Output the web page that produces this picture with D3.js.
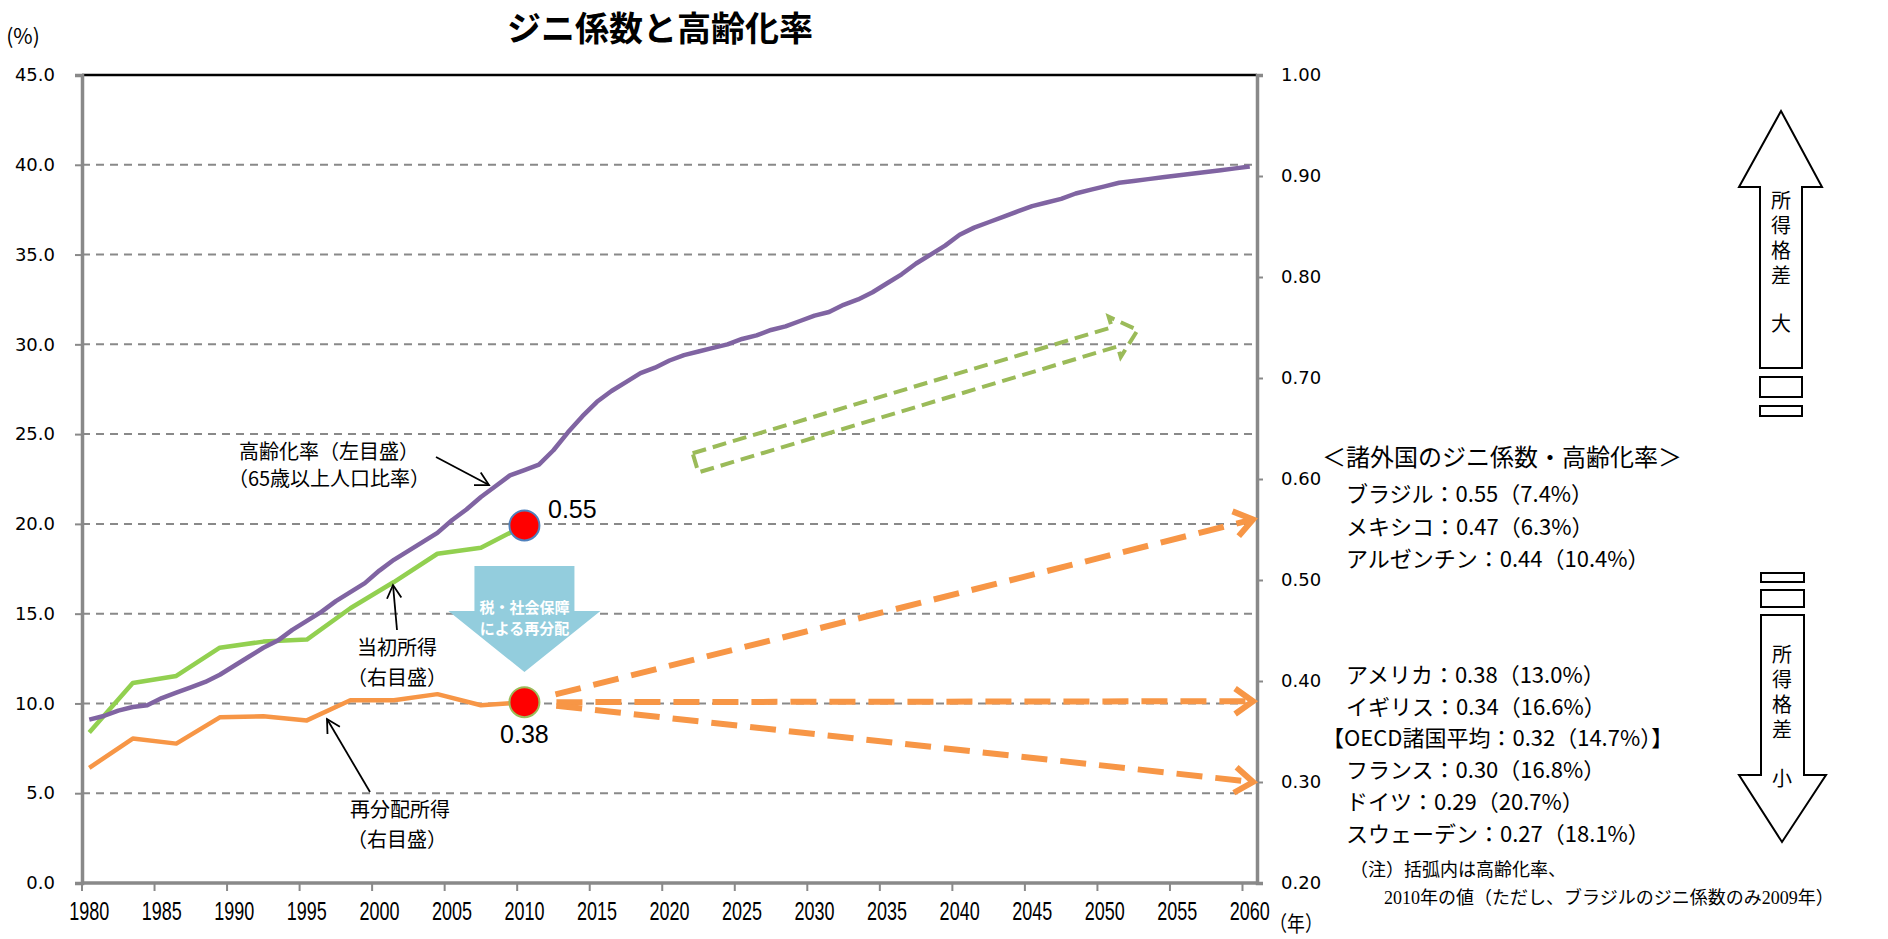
<!DOCTYPE html>
<html><head><meta charset="utf-8">
<script src="https://cdn.jsdelivr.net/npm/d3@7"></script>
<style>body{margin:0;background:#fff}text{font-family:"Noto Sans CJK JP",sans-serif}</style>
</head><body><svg id="c" width="1888" height="939"></svg>
<script>
// ---------- DATA ----------
const years = d3.range(1980, 2061);
const agingRate = [9.1,9.3,9.6,9.8,9.9,10.3,10.6,10.9,11.2,11.6,
 12.1,12.6,13.1,13.5,14.1,14.6,15.1,15.7,16.2,16.7,
 17.4,18.0,18.5,19.0,19.5,20.2,20.8,21.5,22.1,22.7,
 23.0,23.3,24.1,25.1,26.0,26.8,27.4,27.9,28.4,28.7,
 29.1,29.4,29.6,29.8,30.0,30.3,30.5,30.8,31.0,31.3,
 31.6,31.8,32.2,32.5,32.9,33.4,33.9,34.5,35.0,35.5,
 36.1,36.5,36.8,37.1,37.4,37.7,37.9,38.1,38.4,38.6,
 38.8,39.0,39.1,39.2,39.3,39.4,39.5,39.6,39.7,39.8,39.9];
const giniYears = [1980,1983,1986,1989,1992,1995,1998,2001,2004,2007,2010];
const giniInitial = [0.349,0.398,0.405,0.433,0.439,0.441,0.472,0.498,0.526,0.532,0.554];
const giniRedistributed = [0.314,0.343,0.338,0.364,0.365,0.361,0.381,0.381,0.387,0.376,0.379];
const projectionTargets = [0.56,0.38,0.30];
const xTickYears = [1980,1985,1990,1995,2000,2005,2010,2015,2020,2025,2030,2035,2040,2045,2050,2055,2060];
const leftTicks = [0,5,10,15,20,25,30,35,40,45];
const rightTicks = [0.2,0.3,0.4,0.5,0.6,0.7,0.8,0.9,1.0];
const groupHigh = ["ブラジル：0.55（7.4%）","メキシコ：0.47（6.3%）","アルゼンチン：0.44（10.4%）"];
const groupLow = ["アメリカ：0.38（13.0%）","イギリス：0.34（16.6%）","【OECD諸国平均：0.32（14.7%）】","フランス：0.30（16.8%）","ドイツ：0.29（20.7%）","スウェーデン：0.27（18.1%）"];

// ---------- LAYOUT ----------
const svg = d3.select('#c');
const L=82, R=1257, T=75, B=883;
const x = d3.scaleBand().domain(years).range([L,R]);
const cx = y => x(y) + x.bandwidth()/2;
const yL = d3.scaleLinear().domain([0,45]).range([B,T]);
const yR = d3.scaleLinear().domain([0.2,1.0]).range([B,T]);
const GRAY = '#898989';

// title
svg.append('text').attr('x',660).attr('y',41).attr('text-anchor','middle')
  .style('font-size','34px').style('font-weight','bold').text('ジニ係数と高齢化率');

// gridlines
svg.append('g').selectAll('line').data(leftTicks.filter(d=>d>0 && d<45)).join('line')
  .attr('x1',L).attr('x2',R).attr('y1',d=>yL(d)).attr('y2',d=>yL(d))
  .attr('stroke',GRAY).attr('stroke-width',2).attr('stroke-dasharray','8,6');
svg.append('line').attr('x1',L).attr('x2',R).attr('y1',yL(45)).attr('y2',yL(45))
  .attr('stroke','#000').attr('stroke-width',2.5);

// left axis
const gl = svg.append('g').attr('transform',`translate(${L},0)`)
  .call(d3.axisLeft(yL).tickValues(leftTicks).tickFormat(d3.format('.1f')).tickSize(7).tickPadding(20));
gl.select('.domain').attr('stroke',GRAY).attr('stroke-width',3.5);
gl.selectAll('.tick line').attr('stroke',GRAY).attr('stroke-width',2);
gl.selectAll('text').style('font-family','DejaVu Sans').style('font-size','18px').attr('fill','#000');

// right axis
const gr = svg.append('g').attr('transform',`translate(${R},0)`)
  .call(d3.axisRight(yR).tickValues(rightTicks).tickFormat(d3.format('.2f')).tickSize(6).tickPadding(18));
gr.select('.domain').attr('stroke',GRAY).attr('stroke-width',3.5);
gr.selectAll('.tick line').attr('stroke',GRAY).attr('stroke-width',2);
gr.selectAll('text').style('font-family','DejaVu Sans').style('font-size','18px').attr('fill','#000');

// bottom axis
svg.append('line').attr('x1',L).attr('x2',R).attr('y1',B).attr('y2',B).attr('stroke',GRAY).attr('stroke-width',3.5);
svg.append('g').selectAll('line').data(xTickYears).join('line')
  .attr('x1',d=>x(d)).attr('x2',d=>x(d)).attr('y1',B).attr('y2',B+8)
  .attr('stroke',GRAY).attr('stroke-width',2);
svg.append('g').selectAll('text').data(xTickYears).join('text')
  .attr('transform',d=>`translate(${cx(d)},920) scale(0.72,1)`).attr('text-anchor','middle')
  .style('font-family','"Liberation Sans Narrow","Liberation Sans"').style('font-size','25px').text(d=>d);
svg.append('text').attr('x',23).attr('y',44).attr('text-anchor','middle')
  .style('font-size','21px').text('(%)');
svg.append('text').attr('transform','translate(1296,931) scale(0.85,1)').attr('text-anchor','middle')
  .style('font-size','21px').text('（年）');

// series
const lineL = d3.line().x((d,i)=>cx(years[i])).y(d=>yL(d));
const lineR = d3.line().x(d=>cx(d[0])).y(d=>yR(d[1]));
svg.append('path').attr('d',lineR(d3.zip(giniYears,giniRedistributed))).attr('fill','none')
  .attr('stroke','#F79646').attr('stroke-width',4.5).attr('stroke-linejoin','round');
svg.append('path').attr('d',lineR(d3.zip(giniYears,giniInitial))).attr('fill','none')
  .attr('stroke','#92D050').attr('stroke-width',4.5).attr('stroke-linejoin','round');
svg.append('path').attr('d',lineL(agingRate)).attr('fill','none')
  .attr('stroke','#8064A2').attr('stroke-width',4.5).attr('stroke-linejoin','round');

// orange projection arrows
const lastYear = giniYears[giniYears.length-1];
const ox = cx(lastYear), oy = yR(giniRedistributed[giniRedistributed.length-1]);
projectionTargets.forEach(t=>{
  const tx = R-4, ty = yR(t);
  const dx = tx-ox, dy = ty-oy, len = Math.hypot(dx,dy), ux=dx/len, uy=dy/len;
  const sx = ox+ux*32, sy = oy+uy*32;
  svg.append('line').attr('x1',sx).attr('y1',sy).attr('x2',tx-ux*4).attr('y2',ty-uy*4)
    .attr('stroke','#F79646').attr('stroke-width',6).attr('stroke-dasharray','26,13');
  const a = Math.atan2(uy,ux), hl=22, ha=0.62;
  const p1=[tx-hl*Math.cos(a-ha),ty-hl*Math.sin(a-ha)], p2=[tx-hl*Math.cos(a+ha),ty-hl*Math.sin(a+ha)];
  svg.append('path').attr('d',`M${p1}L${tx},${ty}L${p2}`).attr('fill','none')
    .attr('stroke','#F79646').attr('stroke-width',6).attr('stroke-linejoin','miter');
});

// green dashed block arrow
(function(){
  const x0=cx(2022)-3, y0=yL(23.4), x1=cx(2052)+4, y1=yL(30.8);
  const len=Math.hypot(x1-x0,y1-y0), ang=Math.atan2(y1-y0,x1-x0)*180/Math.PI;
  const sw=10, hw=21, hl=24;
  const pts=[[0,-sw],[len-hl,-sw],[len-hl,-hw],[len,0],[len-hl,hw],[len-hl,sw],[0,sw]];
  svg.append('path').attr('transform',`translate(${x0},${y0}) rotate(${ang})`)
    .attr('d','M'+pts.join('L')+'Z').attr('fill','none').attr('stroke','#9BBB59')
    .attr('stroke-width',4).attr('stroke-dasharray','14,7');
})();

// blue block arrow
(function(){
  const c = ox, top=566, mid=611, tip=672, sw=50, hw=76;
  svg.append('path').attr('d',`M${c-sw},${top}L${c+sw},${top}L${c+sw},${mid}L${c+hw},${mid}L${c},${tip}L${c-hw},${mid}L${c-sw},${mid}Z`)
    .attr('fill','#93CDDD');
  svg.append('text').attr('x',c).attr('y',613).attr('text-anchor','middle').attr('fill','#fff')
    .style('font-size','15px').style('font-weight','bold').text('税・社会保障');
  svg.append('text').attr('x',c).attr('y',634).attr('text-anchor','middle').attr('fill','#fff')
    .style('font-size','15px').style('font-weight','bold').text('による再分配');
})();

// red dots
svg.append('circle').attr('cx',cx(lastYear)).attr('cy',yR(giniInitial[giniInitial.length-1])).attr('r',15)
  .attr('fill','#FF0000').attr('stroke','#4F81BD').attr('stroke-width',2);
svg.append('circle').attr('cx',ox).attr('cy',oy).attr('r',15)
  .attr('fill','#FF0000').attr('stroke','#9BBB59').attr('stroke-width',2);
svg.append('text').attr('x',548).attr('y',518).style('font-family','"Liberation Sans"').style('font-size','25px').text('0.55');
svg.append('text').attr('x',ox).attr('y',743).attr('text-anchor','middle').style('font-family','"Liberation Sans"').style('font-size','25px').text('0.38');

// left annotations
function arrow(x1,y1,x2,y2){
  svg.append('line').attr('x1',x1).attr('y1',y1).attr('x2',x2).attr('y2',y2).attr('stroke','#000').attr('stroke-width',1.8);
  const a=Math.atan2(y2-y1,x2-x1), hl=15, ha=0.5;
  svg.append('path').attr('d',`M${x2-hl*Math.cos(a-ha)},${y2-hl*Math.sin(a-ha)}L${x2},${y2}L${x2-hl*Math.cos(a+ha)},${y2-hl*Math.sin(a+ha)}`)
    .attr('fill','none').attr('stroke','#000').attr('stroke-width',1.8);
}
function label(x,y,t,size){svg.append('text').attr('x',x).attr('y',y).attr('text-anchor','middle').style('font-size',(size||20)+'px').text(t);}
label(329,459,'高齢化率（左目盛）');
label(329,486,'（65歳以上人口比率）');
arrow(436,457,489,485);
label(397,655,'当初所得');
label(397,685,'（右目盛）');
arrow(397,630,393,585);
label(400,817,'再分配所得');
label(397,847,'（右目盛）');
arrow(370,792,327,719);

// right panel text
svg.append('text').attr('x',1322).attr('y',466).style('font-size','24px').text('＜諸外国のジニ係数・高齢化率＞');
groupHigh.forEach((t,i)=>svg.append('text').attr('x',1346).attr('y',502+i*32.5).style('font-size','22px').text(t));
groupLow.forEach((t,i)=>svg.append('text').attr('x',t.startsWith('【')?1322:1346).attr('y',683+i*31.7).style('font-size','22px').text(t));
svg.append('text').attr('x',1350).attr('y',876).style('font-family','"Liberation Serif","Noto Sans CJK JP"').style('font-size','18px').text('（注）括弧内は高齢化率、');
svg.append('text').attr('x',1384).attr('y',904).style('font-family','"Liberation Serif","Noto Sans CJK JP"').style('font-size','18px').text('2010年の値（ただし、ブラジルのジニ係数のみ2009年）');

// big outline arrows
function bigArrow(pts){svg.append('path').attr('d','M'+pts.join('L')+'Z').attr('fill','#fff').attr('stroke','#000').attr('stroke-width',2);}
function rect(x,y,w,h){svg.append('rect').attr('x',x).attr('y',y).attr('width',w).attr('height',h).attr('fill','#fff').attr('stroke','#000').attr('stroke-width',2);}
function vtext(x,y,t){svg.append('text').attr('x',x).attr('y',y).style('writing-mode','vertical-rl')
  .style('font-size','20px').style('letter-spacing','5px').text(t);}
bigArrow([[1781,111],[1822,187],[1802,187],[1802,368],[1760,368],[1760,187],[1739,187]]);
rect(1760,377,42,20); rect(1760,406,42,10);
rect(1761,573,43,9); rect(1761,590,43,17);
bigArrow([[1761,615],[1804,615],[1804,775],[1826,775],[1782,842],[1739,775],[1761,775]]);
vtext(1781,190,'所得格差');
vtext(1781,313,'大');
vtext(1782,644,'所得格差');
vtext(1782,768,'小');
</script></body></html>
